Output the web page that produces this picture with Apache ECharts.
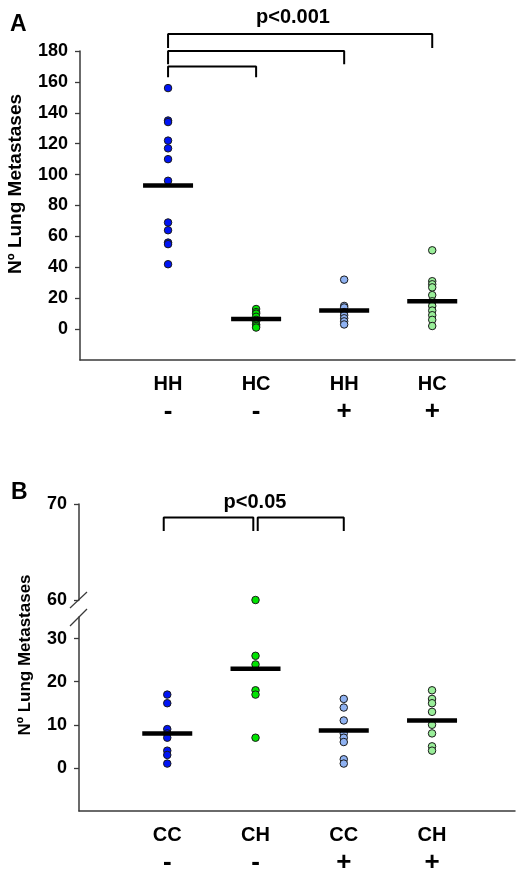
<!DOCTYPE html>
<html>
<head>
<meta charset="utf-8">
<script src="https://cdn.jsdelivr.net/npm/echarts@6/dist/echarts.min.js"></script>
<style>html,body{margin:0;padding:0;background:#fff;}#c{width:525px;height:876px;}</style>
</head>
<body>
<div id="c"></div>
<script>
// ---------- Panel A data ----------
const catsA = ['HH', 'HC', 'HH', 'HC'];
const signsA = ['-', '-', '+', '+'];
const A_HH_minus = [156, 135, 134, 122, 117, 110, 96, 69, 64, 56, 55, 42];
const A_HC_minus = [13, 11, 10, 8, 6, 5, 3, 2, 1];
const A_HH_plus = [32, 15, 14, 11, 9, 7, 5, 3];
const A_HC_plus = [51, 31, 29, 27, 22, 18, 15, 12, 9, 6, 2];
const A_means = [93, 6.5, 12, 18];
const A_ticks = [0, 20, 40, 60, 80, 100, 120, 140, 160, 180];
// brackets: [fromGroup, toGroup, topValue, endValue]
const A_brackets = [[1, 4, 191, 182], [1, 3, 180, 171.5], [1, 2, 170, 163]];
const A_pText = 'p<0.001';

// ---------- Panel B data ----------
const catsB = ['CC', 'CH', 'CC', 'CH'];
const signsB = ['-', '-', '+', '+'];
const B_CC_minus = [17, 15, 9, 8, 7, 4, 3, 1];
const B_CH_minus = [60, 26, 24, 18, 17, 7];
const B_CC_plus = [16, 14, 11, 8, 7, 6, 2, 1];
const B_CH_plus = [18, 16, 15, 13, 10, 8, 5, 4];
const B_means = [8, 23, 8.7, 11];
const B_ticksLow = [0, 10, 20, 30];
const B_ticksHigh = [60, 70];
const B_breakAt = 30;
const B_brackets = [[0.96, 1.975, 68.6, 67.2], [2.025, 3, 68.6, 67.2]];
const B_pText = 'p<0.05';

const yName = 'Nº Lung Metastases';
const FONT = '"Liberation Sans", Arial, sans-serif';
const colors = ['#0014f5', '#00e400', '#8fb2f2', '#99ee99'];
const axisCol = '#3a3a3a';

const chart = echarts.init(document.getElementById('c'), null, {renderer: 'canvas'});

function dotSeries(vals, grp, color, xi, yi) {
  return {
    type: 'scatter', xAxisIndex: xi, yAxisIndex: yi,
    data: vals.map(v => [grp, v]),
    symbol: 'circle', symbolSize: 7.5,
    itemStyle: {color: color, borderColor: '#1a1a1a', borderWidth: 1, opacity: 1},
    z: 3, clip: false, silent: true
  };
}
function meanSeries(means, xi, yi) {
  return {
    type: 'scatter', xAxisIndex: xi, yAxisIndex: yi,
    data: means.map((m, i) => [i + 1, m]),
    symbol: 'rect', symbolSize: [50, 4.5],
    itemStyle: {color: '#000', opacity: 1}, z: 5, silent: true
  };
}
function bracketSeries(b, xi, yi) {
  return {
    type: 'line', xAxisIndex: xi, yAxisIndex: yi,
    data: [[b[0], b[3]], [b[0], b[2]], [b[1], b[2]], [b[1], b[3]]],
    showSymbol: false, symbol: 'none', clip: false, silent: true,
    lineStyle: {color: '#000', width: 2}, z: 4
  };
}

const catLabel = (cats, signs) => ({
  customValues: [1, 2, 3, 4],
  formatter: v => (v >= 1 && v <= 4 && Number.isInteger(v)) ? '{c|' + cats[v - 1] + '}\n{s|' + signs[v - 1] + '}' : '',
  rich: {
    c: {fontFamily: FONT, fontSize: 20, fontWeight: 'bold', color: '#000', lineHeight: 28},
    s: {fontFamily: FONT, fontSize: 26, fontWeight: 'bold', color: '#000', lineHeight: 28}
  },
  margin: 10
});
const yLabel = (ticks) => ({
  customValues: ticks,
  fontFamily: FONT, fontSize: 18, fontWeight: 'bold', color: '#000', margin: 12
});
const yTick = (ticks) => ({show: true, customValues: ticks, length: 5, lineStyle: {color: axisCol, width: 1.3}});
const axLine = {show: true, onZero: false, lineStyle: {color: axisCol, width: 1.5}};

const series = [];
[A_HH_minus, A_HC_minus, A_HH_plus, A_HC_plus].forEach((vals, i) => series.push(dotSeries(vals, i + 1, colors[i], 0, 0)));
series.push(meanSeries(A_means, 0, 0));
A_brackets.forEach(b => series.push(bracketSeries(b, 0, 0)));

[B_CC_minus, B_CH_minus, B_CC_plus, B_CH_plus].forEach((vals, i) => {
  const low = vals.filter(v => v <= B_breakAt);
  const high = vals.filter(v => v > B_breakAt);
  series.push(dotSeries(low, i + 1, colors[i], 2, 2));
  if (high.length) series.push(dotSeries(high, i + 1, colors[i], 1, 1));
});
series.push(meanSeries(B_means, 2, 2));
B_brackets.forEach(b => series.push(bracketSeries(b, 1, 1)));

const option = {
  animation: false,
  backgroundColor: '#fff',
  grid: [
    {left: 80, top: 51, width: 435, height: 309},
    {left: 79, top: 504, width: 436, height: 96},
    {left: 79, top: 617, width: 436, height: 198}
  ],
  xAxis: [
    {gridIndex: 0, type: 'value', min: 0, max: 4.94, interval: 1, axisLine: axLine, axisTick: {show: false}, splitLine: {show: false}, axisLabel: catLabel(catsA, signsA)},
    {gridIndex: 1, type: 'value', min: 0, max: 4.94, interval: 1, show: false, splitLine: {show: false}},
    {gridIndex: 2, type: 'value', min: 0, max: 4.94, interval: 1, axisLine: axLine, axisTick: {show: false}, splitLine: {show: false}, axisLabel: catLabel(catsB, signsB)}
  ],
  yAxis: [
    {gridIndex: 0, type: 'value', min: -20, max: 180, interval: 20, axisLine: axLine, axisTick: yTick(A_ticks), splitLine: {show: false}, axisLabel: yLabel(A_ticks)},
    {gridIndex: 1, type: 'value', min: 60, max: 70, interval: 10, axisLine: axLine, axisTick: yTick(B_ticksHigh), splitLine: {show: false}, axisLabel: yLabel(B_ticksHigh)},
    {gridIndex: 2, type: 'value', min: -10, max: 35, interval: 10, axisLine: axLine, axisTick: yTick(B_ticksLow), splitLine: {show: false}, axisLabel: yLabel(B_ticksLow)}
  ],
  graphic: [
    {type: 'text', left: 10, top: 13, style: {text: 'A', font: 'bold 23px ' + FONT, fill: '#000'}},
    {type: 'text', left: 11, top: 481, style: {text: 'B', font: 'bold 23px ' + FONT, fill: '#000'}},
    {type: 'text', x: 293, y: 17, style: {text: A_pText, font: 'bold 20px ' + FONT, fill: '#000', textAlign: 'center', textVerticalAlign: 'middle'}},
    {type: 'text', x: 255, y: 502, style: {text: B_pText, font: 'bold 20px ' + FONT, fill: '#000', textAlign: 'center', textVerticalAlign: 'middle'}},
    {type: 'text', x: 16, y: 184, rotation: Math.PI / 2, style: {text: yName, font: 'bold 19px ' + FONT, fill: '#000', textAlign: 'center', textVerticalAlign: 'middle'}},
    {type: 'text', x: 25, y: 655, rotation: Math.PI / 2, style: {text: yName, font: 'bold 17px ' + FONT, fill: '#000', textAlign: 'center', textVerticalAlign: 'middle'}},
    {type: 'line', shape: {x1: 70, y1: 608, x2: 87, y2: 592}, style: {stroke: axisCol, lineWidth: 1.2}},
    {type: 'line', shape: {x1: 70, y1: 626, x2: 87, y2: 609}, style: {stroke: axisCol, lineWidth: 1.2}}
  ],
  series: series
};
chart.setOption(option);
</script>
</body>
</html>
